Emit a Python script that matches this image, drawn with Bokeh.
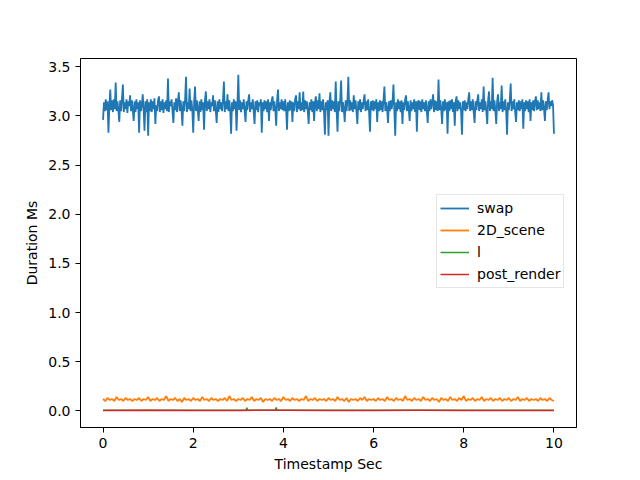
import numpy as np
from bokeh.plotting import figure
from bokeh.models import Range1d, FixedTicker, PrintfTickFormatter, Legend, LegendItem
from bokeh.embed import file_html
from bokeh.resources import INLINE

# ---- data ----
swap = [
    2.96, 3.14, 3.05, 3.17, 3.06, 3.15, 2.83, 3.10, 3.27, 3.06, 3.16, 3.04, 3.17, 3.07, 3.34, 3.05, 3.15, 3.06, 2.94, 3.16, 3.05, 3.18, 3.32, 3.04, 3.14,
    3.07, 3.17, 3.03, 3.15, 3.10, 3.21, 3.05, 3.16, 3.06, 2.95, 3.15, 3.04, 3.17, 3.07, 3.14, 2.83, 3.16, 3.05, 3.11, 3.22, 3.06, 2.85, 3.15, 3.04, 3.17,
    2.80, 3.14, 3.05, 3.17, 3.04, 3.15, 3.07, 3.18, 2.92, 3.11, 3.05, 3.16, 3.20, 3.04, 3.15, 3.06, 3.17, 3.03, 3.14, 3.07, 3.16, 3.05, 3.38, 3.04, 3.15,
    3.10, 3.17, 3.05, 2.93, 3.14, 3.06, 3.18, 3.04, 3.15, 3.24, 3.05, 3.16, 3.07, 2.90, 3.15, 3.05, 3.17, 3.40, 3.04, 3.14, 3.07, 3.28, 3.05, 3.16, 3.06,
    2.83, 3.14, 3.30, 3.05, 3.16, 3.07, 2.95, 3.15, 3.04, 3.17, 3.06, 3.14, 2.86, 3.16, 3.25, 3.05, 3.15, 3.07, 3.17, 3.04, 3.14, 3.10, 3.21, 3.05, 3.16,
    3.06, 2.93, 3.15, 3.04, 3.17, 3.07, 3.14, 3.05, 3.16, 3.35, 3.04, 3.15, 3.07, 3.22, 3.05, 3.16, 3.06, 2.82, 3.14, 3.05, 3.17, 3.07, 3.15, 2.85, 3.11,
    3.42, 3.06, 3.16, 3.04, 3.14, 3.07, 3.17, 3.05, 2.94, 3.15, 3.06, 3.16, 3.22, 3.04, 3.14, 3.07, 3.17, 3.05, 2.92, 3.15, 3.06, 3.16, 3.04, 3.14, 3.10,
    3.17, 2.83, 3.14, 3.05, 3.16, 3.07, 3.15, 3.04, 3.17, 2.95, 3.14, 3.06, 3.16, 3.20, 3.05, 3.15, 3.07, 2.90, 3.16, 3.27, 3.05, 3.14, 3.07, 3.17, 3.06,
    3.15, 3.05, 3.17, 3.07, 2.86, 3.14, 3.05, 3.16, 3.06, 3.15, 2.94, 3.14, 3.05, 3.17, 3.21, 3.04, 3.15, 3.07, 3.24, 3.05, 3.14, 3.06, 3.25, 3.04, 3.16,
    3.07, 3.15, 3.05, 2.92, 3.14, 3.06, 3.17, 3.04, 3.15, 2.95, 3.14, 3.20, 3.05, 3.16, 3.07, 3.23, 3.04, 3.15, 3.06, 3.17, 3.05, 2.81, 3.14, 3.06, 3.16,
    2.80, 3.14, 3.24, 3.05, 3.16, 3.07, 3.15, 3.04, 3.35, 3.06, 2.84, 3.15, 3.05, 3.17, 3.36, 3.04, 3.14, 3.07, 2.94, 3.16, 3.05, 3.15, 3.40, 3.05, 3.16,
    3.06, 3.14, 3.04, 3.21, 3.07, 3.16, 3.05, 2.92, 3.15, 3.06, 3.17, 3.04, 3.14, 3.07, 3.16, 3.22, 3.05, 3.15, 3.06, 3.17, 3.04, 2.84, 3.15, 3.06, 3.16,
    3.05, 3.15, 3.07, 3.17, 2.94, 3.14, 3.05, 3.16, 3.06, 3.15, 3.04, 3.17, 3.30, 3.05, 3.14, 3.07, 2.93, 3.15, 3.05, 3.16, 3.07, 3.14, 3.32, 3.06, 2.80,
    3.14, 3.05, 3.17, 3.07, 3.15, 3.04, 3.16, 2.92, 3.14, 3.06, 3.17, 3.21, 3.05, 3.15, 3.07, 2.95, 3.16, 3.05, 3.14, 3.07, 3.17, 3.04, 3.15, 2.84, 3.14,
    3.16, 3.06, 3.15, 3.04, 3.17, 3.07, 3.14, 3.05, 3.16, 3.06, 2.93, 3.15, 3.05, 3.17, 3.07, 3.14, 3.22, 3.04, 3.16, 3.06, 3.15, 3.05, 3.37, 3.06, 3.16,
    3.07, 2.92, 3.15, 3.05, 3.17, 3.06, 3.14, 2.82, 3.15, 3.05, 3.16, 3.07, 3.17, 3.04, 3.14, 2.90, 3.15, 3.20, 3.05, 3.16, 3.07, 3.14, 3.05, 2.81, 3.15,
    3.06, 3.16, 3.05, 3.14, 3.07, 3.17, 3.24, 3.05, 3.15, 3.06, 3.17, 3.04, 2.93, 3.15, 3.06, 3.16, 3.22, 3.05, 3.14, 3.07, 3.17, 3.04, 3.30, 3.06, 3.15,
    3.05, 2.92, 3.16, 3.25, 3.05, 3.15, 3.07, 3.39, 3.05, 3.16, 3.06, 2.92, 3.15, 3.22, 3.05, 3.14, 3.07, 3.31, 3.04, 3.15, 3.06, 3.17, 3.05, 2.81, 3.14,
    3.06, 3.16, 3.33, 3.05, 3.15, 3.07, 3.17, 3.04, 2.94, 3.14, 3.06, 3.16, 3.05, 3.15, 3.07, 3.17, 2.87, 3.14, 3.05, 3.16, 3.07, 3.15, 3.04, 3.17, 2.95,
    3.14, 3.06, 3.16, 3.05, 3.15, 3.20, 3.06, 3.16, 3.07, 3.14, 3.05, 3.24, 3.06, 3.16, 3.07, 2.95, 3.15, 3.06, 3.16, 3.24, 3.07, 3.15, 3.10, 3.16, 3.11,
    2.82,
]
swap_t = np.linspace(0, 10, len(swap))

scene = [
    0.12, 0.10, 0.13, 0.11, 0.12, 0.10, 0.14, 0.11, 0.12, 0.10, 0.13, 0.11, 0.12, 0.10, 0.12, 0.11, 0.13, 0.10, 0.12, 0.11,
    0.14, 0.10, 0.12, 0.11, 0.13, 0.10, 0.12, 0.11, 0.15, 0.10, 0.12, 0.11, 0.13, 0.10, 0.12, 0.09, 0.13, 0.11, 0.12, 0.10,
    0.13, 0.11, 0.12, 0.10, 0.14, 0.11, 0.12, 0.10, 0.13, 0.11, 0.12, 0.10, 0.12, 0.11, 0.13, 0.10, 0.15, 0.11, 0.12, 0.10,
    0.12, 0.11, 0.13, 0.10, 0.12, 0.11, 0.14, 0.10, 0.12, 0.11, 0.13, 0.09, 0.12, 0.11, 0.12, 0.10, 0.13, 0.11, 0.12, 0.10,
    0.14, 0.11, 0.12, 0.10, 0.13, 0.11, 0.12, 0.10, 0.12, 0.11, 0.15, 0.10, 0.12, 0.11, 0.13, 0.10, 0.12, 0.11, 0.12, 0.10,
    0.13, 0.11, 0.12, 0.10, 0.14, 0.11, 0.12, 0.10, 0.13, 0.09, 0.12, 0.11, 0.12, 0.10, 0.13, 0.11, 0.14, 0.10, 0.12, 0.11,
    0.12, 0.10, 0.13, 0.11, 0.12, 0.10, 0.14, 0.11, 0.12, 0.10, 0.13, 0.11, 0.12, 0.10, 0.15, 0.11, 0.12, 0.10, 0.13, 0.11,
    0.12, 0.10, 0.14, 0.11, 0.12, 0.10, 0.13, 0.11, 0.12, 0.09, 0.13, 0.11, 0.12, 0.10, 0.14, 0.11, 0.12, 0.10, 0.13, 0.11,
    0.15, 0.10, 0.12, 0.11, 0.13, 0.10, 0.12, 0.11, 0.14, 0.10, 0.12, 0.11, 0.13, 0.10, 0.12, 0.11, 0.13, 0.10, 0.12, 0.11,
    0.13, 0.10, 0.12, 0.11, 0.14, 0.10, 0.12, 0.11, 0.13, 0.10, 0.12, 0.11, 0.12, 0.10, 0.13, 0.11, 0.12, 0.10, 0.13, 0.11,
    0.10,
]
scene_t = np.linspace(0, 10, len(scene))

l_t = [0, 2, 3.17, 3.19, 3.21, 3.82, 3.84, 3.86, 6, 8, 10]
l_vals = [0.005, 0.005, 0.005, 0.03, 0.005, 0.005, 0.035, 0.005, 0.005, 0.005, 0.005]

post_t = [0, 1, 2, 3, 4, 5, 6, 7, 8, 9, 10]
post = [0.004, 0.005, 0.004, 0.004, 0.005, 0.004, 0.004, 0.005, 0.004, 0.004, 0.004]

x_ticks = [0, 2, 4, 6, 8, 10]
y_ticks = [0.0, 0.5, 1.0, 1.5, 2.0, 2.5, 3.0, 3.5]

# ---- figure ----
FONT = "DejaVu Sans"
p = figure(width=640, height=480, output_backend="svg", toolbar_location=None,
           x_range=Range1d(-0.5, 10.5), y_range=Range1d(-0.17, 3.585),
           min_border_left=80, min_border_right=64, min_border_top=58, min_border_bottom=53)
p.background_fill_color = "white"
p.border_fill_color = "white"
p.outline_line_color = "black"
p.outline_line_width = 1
p.grid.visible = False

r1 = p.line(swap_t, swap, line_color="#1f77b4", line_width=1.8)
r2 = p.line(scene_t, scene, line_color="#ff7f0e", line_width=1.8)
r3 = p.line(l_t, l_vals, line_color="#2ca02c", line_width=1.5)
r4 = p.line(post_t, post, line_color="#d62728", line_width=1.5)

for ax in (p.xaxis[0], p.yaxis[0]):
    ax.major_label_text_font = FONT
    ax.major_label_text_font_size = "14px"
    ax.major_label_text_color = "black"
    ax.axis_label_text_font = FONT
    ax.axis_label_text_font_size = "14px"
    ax.axis_label_text_font_style = "normal"
    ax.axis_label_text_color = "black"
    ax.minor_tick_line_color = None
    ax.major_tick_in = 0
    ax.major_tick_out = 5
    ax.axis_line_color = "black"
    ax.major_tick_line_color = "black"

p.xaxis.ticker = FixedTicker(ticks=x_ticks)
p.yaxis.ticker = FixedTicker(ticks=y_ticks)
p.xaxis.formatter = PrintfTickFormatter(format="%d")
p.yaxis.formatter = PrintfTickFormatter(format="%.1f")
p.xaxis.axis_label = "Timestamp Sec"
p.yaxis.axis_label = "Duration Ms"

legend = Legend(items=[LegendItem(label="swap", renderers=[r1]),
                       LegendItem(label="2D_scene", renderers=[r2]),
                       LegendItem(label="l", renderers=[r3]),
                       LegendItem(label="post_render", renderers=[r4])],
                location=(356, 139))
legend.label_text_font = FONT
legend.label_text_font_size = "14px"
legend.label_text_color = "black"
legend.border_line_color = "#cccccc"
legend.border_line_width = 1
legend.background_fill_alpha = 0.8
legend.padding = 3
legend.spacing = 2
legend.margin = 0
legend.glyph_width = 29
legend.glyph_height = 20
legend.label_height = 20
legend.label_standoff = 8
p.add_layout(legend)

open("out.html", "w").write(file_html(p, INLINE))
